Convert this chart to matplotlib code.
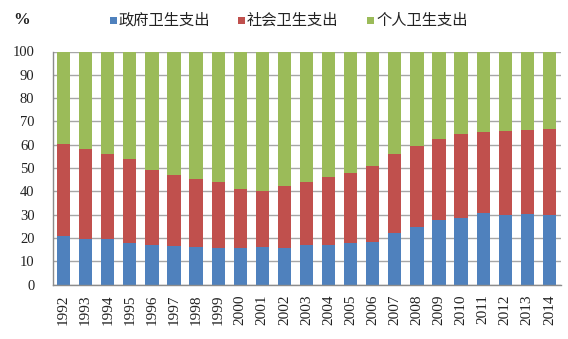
import matplotlib
matplotlib.use("Agg")
import matplotlib.pyplot as plt
from matplotlib.patches import Rectangle
import numpy as np

years = ["1992", "1993", "1994", "1995", "1996", "1997", "1998", "1999", "2000", "2001",
         "2002", "2003", "2004", "2005", "2006", "2007", "2008", "2009", "2010", "2011",
         "2012", "2013", "2014"]
gov = [20.8, 19.7, 19.4, 18.0, 17.0, 16.4, 16.0, 15.8, 15.5, 15.9,
       15.7, 17.0, 17.0, 17.9, 18.1, 22.3, 24.7, 27.5, 28.7, 30.7,
       30.0, 30.1, 30.0]
social = [39.3, 38.3, 36.6, 35.8, 32.3, 30.8, 29.1, 28.3, 25.6, 24.1,
          26.6, 27.2, 29.3, 29.9, 32.6, 33.6, 34.9, 35.1, 36.0, 34.6,
          35.7, 36.0, 36.7]
personal = [39.9, 42.0, 44.0, 46.2, 50.7, 52.8, 54.9, 55.9, 58.9, 60.0,
            57.7, 55.8, 53.7, 52.2, 49.3, 44.1, 40.4, 37.4, 35.3, 34.7,
            34.3, 33.9, 33.3]
series_names = ["政府卫生支出", "社会卫生支出", "个人卫生支出"]
colors = ["#4F81BD", "#C0504D", "#9BBB59"]
yticks = [0, 10, 20, 30, 40, 50, 60, 70, 80, 90, 100]

W, H = 568, 339
fig = plt.figure(figsize=(W / 100, H / 100), dpi=100)
ax = fig.add_axes([52.5 / W, 54.5 / H, (560.5 - 52.5) / W, (284.5 - 51.5) / H])

x = np.arange(len(years))
w = 0.6
ax.bar(x, gov, width=w, color=colors[0], zorder=3)
ax.bar(x, social, width=w, bottom=gov, color=colors[1], zorder=3)
bottom3 = np.array(gov) + np.array(social)
ax.bar(x, personal, width=w, bottom=bottom3, color=colors[2], zorder=3)

ax.set_xlim(-0.5, len(years) - 0.5)
ax.set_ylim(0, 100)
ax.set_yticks(yticks)
ax.set_yticklabels([str(t) for t in yticks], fontfamily="Liberation Serif", fontsize=10.5, color="#222222")
ax.set_xticks(x)
ax.set_xticklabels(years, rotation=90, fontfamily="Liberation Serif", fontsize=11, color="#222222")
ax.tick_params(axis="y", length=0, pad=13)
ax.tick_params(axis="x", length=0, pad=7)
ax.grid(axis="y", color="#A6A6A6", linewidth=1.0, zorder=0)
ax.set_axisbelow(True)
for s in ["top", "right"]:
    ax.spines[s].set_visible(False)
for s in ["left", "bottom"]:
    ax.spines[s].set_color("#8C8C8C")
    ax.spines[s].set_linewidth(1.0)
    ax.spines[s].set_zorder(4)

fig.text(13 / W, 1 - 19.5 / H, "%", fontfamily="Liberation Serif", fontsize=12, fontweight="bold",
         va="center", ha="left", color="#222222")

# legend (manual)
leg_sq_x = [109.5, 238, 367]
for px, name, c in zip(leg_sq_x, series_names, colors):
    fig.add_artist(Rectangle((px / W, 1 - 23.5 / H), 7 / W, 7 / H,
                             transform=fig.transFigure, facecolor=c, edgecolor="none"))
    fig.text((px + 9) / W, 1 - 20 / H, name, family=["Noto Sans CJK SC", "DejaVu Sans"],
             fontsize=11, va="center", ha="left", color="#222222")

fig.savefig("out.png", dpi=100)
